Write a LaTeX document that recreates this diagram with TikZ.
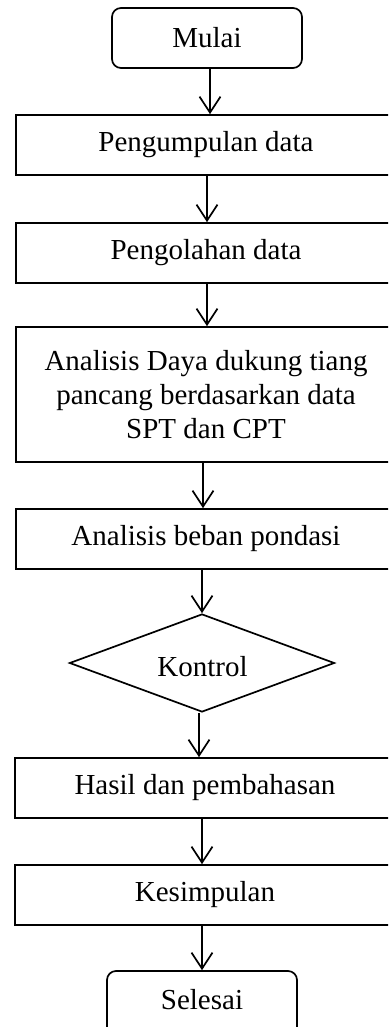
\documentclass[tikz,border=0pt]{standalone}
\usepackage{fontspec}
\setmainfont{Liberation Serif}
\usetikzlibrary{arrows.meta,shapes.geometric}
\begin{document}
\begin{tikzpicture}[x=1pt,y=-1pt,
  every node/.style={font=\fontsize{29}{34}\selectfont, inner sep=0pt},
  terminal/.style={draw, line width=1.7pt, rounded corners=9pt, minimum width=190pt, minimum height=60pt},
  process/.style={draw, line width=1.7pt, minimum width=380pt, align=center},
  decision/.style={draw, line width=1.7pt, diamond, minimum width=265pt, minimum height=98pt},
  arr/.style={line width=1.7pt, -{Straight Barb[length=16pt,width=21pt,line width=1.7pt]}}]
\useasboundingbox (0,0) rectangle (388,1027);
\clip (0,0) rectangle (388,1027);
\fill[white] (0,0) rectangle (388,1027);

\node[terminal] (mulai) at (207,38) {Mulai};
\node[process, minimum height=60pt] (kumpul) at (206,145) {Pengumpulan data};
\node[process, minimum height=60pt] (olah) at (206,253) {Pengolahan data};
\node[process, minimum height=135pt] (analisis) at (206,394.5)
  {Analisis Daya dukung tiang\\pancang berdasarkan data\\SPT dan CPT};
\node[process, minimum height=60pt] (beban) at (206,539) {Analisis beban pondasi};
\node[decision] (kontrol) at (202,663) {};
\node at (202.5,667) {Kontrol};
\node[process, minimum height=60pt] (hasil) at (205,788) {Hasil dan pembahasan};
\node[process, minimum height=60pt] (simpul) at (205,895) {Kesimpulan};
\node[terminal, minimum height=66pt] (selesai) at (202,1004) {};
\node at (202,1000) {Selesai};

\draw[arr] (mulai.south -| 210,0) -- (kumpul.north -| 210,0);
\draw[arr] (kumpul.south -| 207,0) -- (olah.north -| 207,0);
\draw[arr] (olah.south -| 207,0) -- (analisis.north -| 207,0);
\draw[arr] (analisis.south -| 203,0) -- (beban.north -| 203,0);
\draw[arr] (beban.south -| kontrol.north) -- (kontrol.north);
\draw[arr] (kontrol.south -| 199,0) -- (hasil.north -| 199,0);
\draw[arr] (hasil.south -| 202,0) -- (simpul.north -| 202,0);
\draw[arr] (simpul.south -| 202,0) -- (selesai.north -| 202,0);
\end{tikzpicture}
\end{document}
